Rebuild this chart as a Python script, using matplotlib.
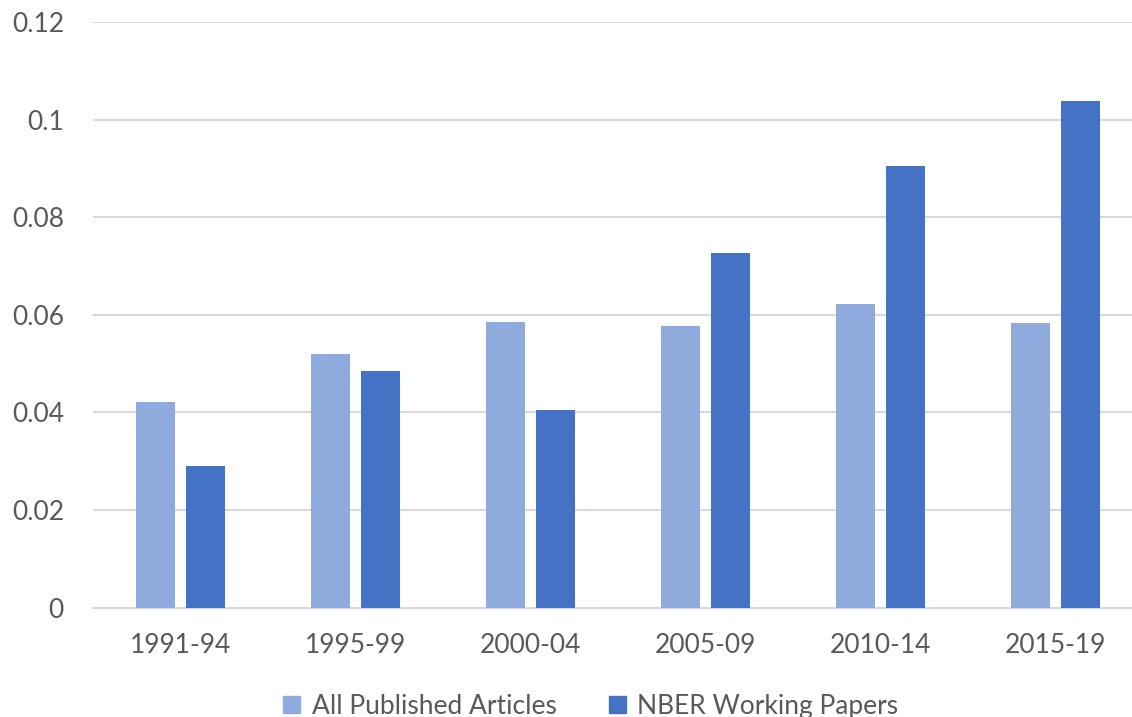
import numpy as np
import matplotlib.pyplot as plt
from matplotlib.patches import Patch

# 数据
periods = ['1991-94', '1995-99', '2000-04', '2005-09', '2010-14', '2015-19']
all_published = [0.0421, 0.0519, 0.0585, 0.0577, 0.0622, 0.0583]
nber_papers = [0.0291, 0.0484, 0.0404, 0.0727, 0.0905, 0.1038]
y_ticks = [0, 0.02, 0.04, 0.06, 0.08, 0.1, 0.12]
y_tick_labels = ['0', '0.02', '0.04', '0.06', '0.08', '0.1', '0.12']

LIGHT = '#8FAADC'
DARK = '#4472C4'
TEXT = '#595959'
GRID = '#D9D9D9'

plt.rcParams['font.family'] = ['Lato', 'DejaVu Sans']

fig = plt.figure(figsize=(11.32, 7.17), dpi=100)
ax = fig.add_axes([0.0822, 0.1527, 0.9279, 0.8166])

x = np.arange(len(periods))
width = 0.223
offset = 0.143
ax.bar(x - offset, all_published, width, color=LIGHT, zorder=3)
ax.bar(x + offset, nber_papers, width, color=DARK, zorder=3)

ax.set_xlim(-0.5, len(periods) - 0.5)
ax.set_ylim(0, 0.12)
ax.set_yticks(y_ticks)
ax.set_yticklabels(y_tick_labels)
ax.set_xticks(x)
ax.set_xticklabels(periods)

ax.grid(axis='y', color=GRID, linewidth=1.5, zorder=0)
ax.set_axisbelow(True)
for side in ['top', 'right', 'left']:
    ax.spines[side].set_visible(False)
ax.spines['bottom'].set_color(GRID)
ax.spines['bottom'].set_linewidth(1.5)
ax.tick_params(axis='both', length=0, labelsize=19, colors=TEXT)
ax.tick_params(axis='y', pad=21)
ax.tick_params(axis='x', pad=18)

handles = [Patch(color=LIGHT, label='All Published Articles'),
           Patch(color=DARK, label='NBER Working Papers')]
fig.legend(handles=handles, loc='center', bbox_to_anchor=(0.522, 0.015),
           ncol=2, frameon=False, fontsize=19, labelcolor=TEXT,
           handlelength=0.62, handleheight=0.62, handletextpad=0.45,
           columnspacing=2.0, borderpad=0)

plt.savefig('out.png', dpi=100)
